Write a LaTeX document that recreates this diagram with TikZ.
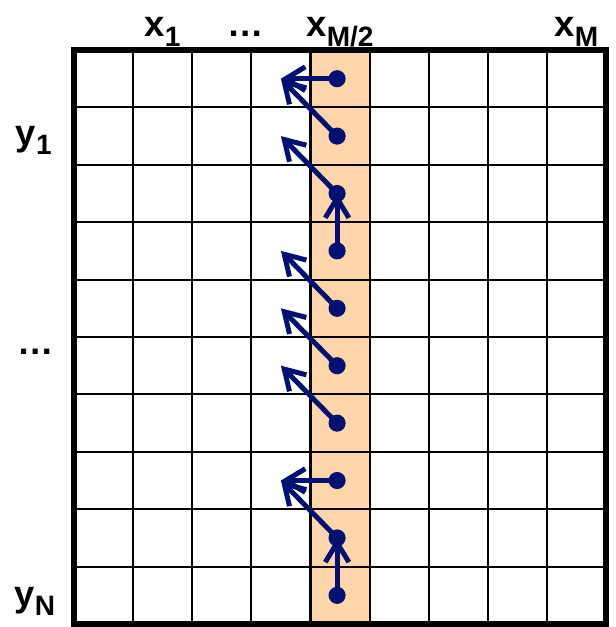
\documentclass[tikz,border=0pt]{standalone}
\usepackage{fontspec}
\setmainfont{Liberation Sans}
\usetikzlibrary{arrows.meta}
\definecolor{ptrblue}{RGB}{0,16,115}
\definecolor{colfill}{RGB}{255,214,170}
\newcommand{\lbsub}[1]{\raisebox{-4.5pt}{\fontsize{13.5}{15}\selectfont #1}}

\begin{document}
\begin{tikzpicture}[
  x=1cm,y=0.971cm,
  lbl/.style={font=\fontsize{17.5}{20}\selectfont\bfseries, inner sep=0pt, anchor=base},
  cell/.style={line width=1pt},
  frame/.style={line width=2.7pt},
  dot/.style={circle, fill=ptrblue, inner sep=0pt, minimum size=0.29cm},
  ptr/.style={-{Straight Barb[length=3.3mm, width=4mm]}, line width=2.4pt, ptrblue}
]
\useasboundingbox (-1.252,0.871) rectangle (9.154,-10.052);

% highlighted column
\fill[colfill] (4,0) rectangle (5,-10);

% grid
\foreach \i in {1,...,8} \draw[cell] (\i,0) -- (\i,-10);
\foreach \j in {1,...,9} \draw[cell] (0,-\j) -- (9,-\j);
\draw[frame] (0,0) rectangle (9,-10);

% labels
\node[lbl] (x1) at (1.5,0.23) {x\lbsub{1}};
\node[lbl] (xdots) at (2.9,0.23) {\ldots};
\node[lbl] (xmid) at (4.5,0.23) {x\lbsub{M/2}};
\node[lbl] (xM) at (8.5,0.23) {x\lbsub{M}};
\node[lbl] (y1) at (-0.68,-1.66) {y\lbsub{1}};
\node[lbl] (ydots) at (-0.64,-5.31) {\ldots};
\node[lbl] (yN) at (-0.66,-9.69) {y\lbsub{N}};

% cells of the middle column and their left neighbours
\foreach \r in {1,...,10} {
  \node[dot] (d\r) at (4.45,0.5-\r) {};
  \coordinate (t\r) at (3.5,0.5-\r);
}

% back pointers
\draw[ptr] (d1.center) -- (t1);
\draw[ptr] (d2.center) -- (t1);
\draw[ptr] (d3.center) -- (t2);
\draw[ptr] (d4.center) -- (d3.center);
\draw[ptr] (d5.center) -- (t4);
\draw[ptr] (d6.center) -- (t5);
\draw[ptr] (d7.center) -- (t6);
\draw[ptr] (d8.center) -- (t8);
\draw[ptr] (d9.center) -- (t8);
\draw[ptr] (d10.center) -- (d9.center);

\end{tikzpicture}
\end{document}
